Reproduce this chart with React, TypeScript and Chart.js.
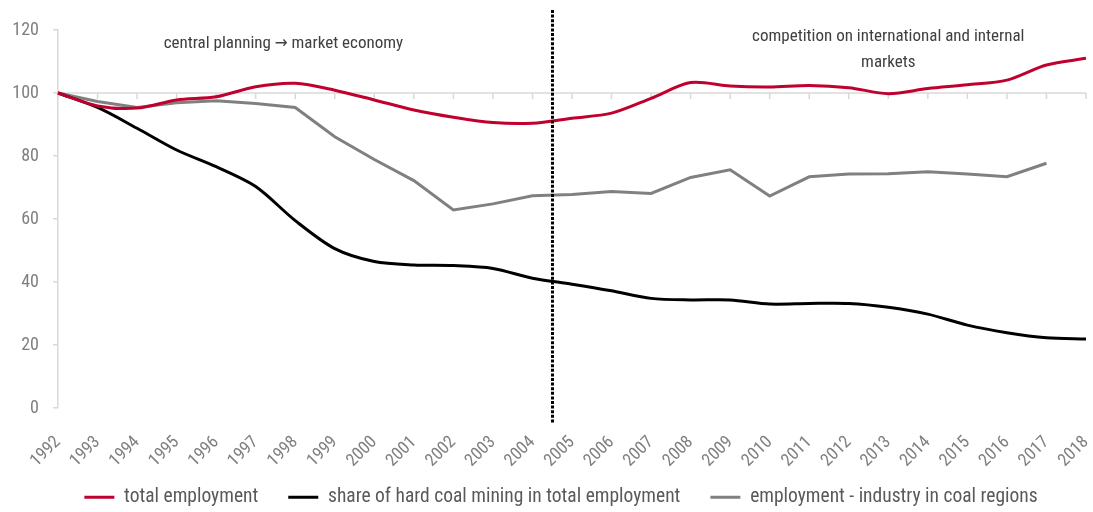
import React, { useEffect, useRef } from "react";
import { Chart, registerables } from "chart.js";

Chart.register(...registerables);

const years = [
  "1992", "1993", "1994", "1995", "1996", "1997", "1998", "1999", "2000",
  "2001", "2002", "2003", "2004", "2005", "2006", "2007", "2008", "2009",
  "2010", "2011", "2012", "2013", "2014", "2015", "2016", "2017", "2018",
];

const totalEmployment = [
  100, 95.9, 95.2, 97.8, 98.8, 102.0, 103.1, 100.9, 97.8, 94.6, 92.3, 90.6,
  90.4, 92.0, 93.6, 98.3, 103.3, 102.2, 101.9, 102.4, 101.7, 99.8, 101.4,
  102.6, 104.1, 108.9, 111.0,
];

const hardCoalShare = [
  100, 95.4, 88.8, 81.9, 76.6, 70.3, 59.5, 50.6, 46.5, 45.4, 45.2, 44.3,
  41.2, 39.3, 37.2, 34.8, 34.3, 34.3, 33.0, 33.2, 33.2, 32.0, 29.8, 26.3,
  23.9, 22.3, 21.9,
];

const industryCoalRegions: (number | null)[] = [
  100, 97.3, 95.4, 96.9, 97.5, 96.7, 95.4, 86.1, 78.9, 72.2, 62.9, 64.8,
  67.4, 67.8, 68.7, 68.1, 73.2, 75.6, 67.3, 73.4, 74.3, 74.4, 75.0, 74.3,
  73.4, 77.7, null,
];

const seriesNames = [
  "total employment",
  "share of hard coal mining in total employment",
  "employment - industry in coal regions",
];

const yMin = 0;
const yMax = 120;
const yStep = 20;
const axisCrossValue = 100;
const dividerIndex = 12.5; // between 2004 and 2005

const annotations = [
  { text: "central planning \u2192 market economy", index: 5.7, value: 115.7 },
  { text: "competition on international and internal", index: 21.0, value: 117.8 },
  { text: "markets", index: 21.0, value: 109.6 },
];

const FONT =
  "'Roboto Condensed', 'DejaVu Sans Condensed', 'Liberation Sans Narrow', Roboto, sans-serif";

const decorPlugin = {
  id: "decor",
  afterLayout(chart: any) {
    // let tick labels overflow their axis boxes (as in the original)
    if (chart.scales.x) chart.scales.x._computeLabelArea = () => undefined;
    if (chart.scales.y) chart.scales.y._computeLabelArea = () => undefined;
  },
  beforeDatasetsDraw(chart: any) {
    const { ctx, chartArea, scales } = chart;
    const x = scales.x;
    const y = scales.y;
    const yc = y.getPixelForValue(axisCrossValue);
    ctx.save();
    ctx.strokeStyle = "#d9d9d9";
    ctx.lineWidth = 1.5;
    ctx.beginPath();
    ctx.moveTo(chartArea.left, yc);
    ctx.lineTo(chartArea.right, yc);
    for (let i = 0; i < years.length; i++) {
      const px = x.getPixelForValue(i);
      ctx.moveTo(px, yc);
      ctx.lineTo(px, yc + 6);
    }
    ctx.stroke();
    ctx.restore();
  },
  afterDatasetsDraw(chart: any) {
    const { ctx, chartArea, scales } = chart;
    const x = scales.x;
    const y = scales.y;
    ctx.save();
    const px = Math.round(x.getPixelForValue(dividerIndex)) + 0.5;
    ctx.strokeStyle = "#000000";
    ctx.lineWidth = 3;
    ctx.setLineDash([3, 1.6]);
    ctx.beginPath();
    ctx.moveTo(px, chartArea.top - 20);
    ctx.lineTo(px, chartArea.bottom + 15);
    ctx.stroke();
    ctx.setLineDash([]);
    ctx.fillStyle = "#404040";
    ctx.font = `17px ${FONT}`;
    ctx.textAlign = "center";
    ctx.textBaseline = "middle";
    for (const a of annotations) {
      ctx.fillText(a.text, x.getPixelForValue(a.index), y.getPixelForValue(a.value));
    }
    ctx.restore();
  },
};

export default function App() {
  const canvasRef = useRef<HTMLCanvasElement | null>(null);

  useEffect(() => {
    if (!canvasRef.current) return;
    Chart.defaults.font.family = FONT;
    const chart = new Chart(canvasRef.current, {
      type: "line",
      data: {
        labels: years,
        datasets: [
          {
            label: seriesNames[0],
            data: totalEmployment,
            borderColor: "#c0002f",
            backgroundColor: "#c0002f",
            borderWidth: 3,
            pointRadius: 0,
            tension: 0.3,
          },
          {
            label: seriesNames[1],
            data: hardCoalShare,
            borderColor: "#000000",
            backgroundColor: "#000000",
            borderWidth: 3,
            pointRadius: 0,
            tension: 0.3,
          },
          {
            label: seriesNames[2],
            data: industryCoalRegions,
            borderColor: "#808080",
            backgroundColor: "#808080",
            borderWidth: 3,
            pointRadius: 0,
            tension: 0,
          },
        ],
      },
      options: {
        animation: false,
        responsive: true,
        maintainAspectRatio: false,
        layout: { padding: { top: 30, right: 7, left: 36, bottom: 0 } },
        plugins: {
          tooltip: { enabled: false },
          legend: {
            position: "bottom",
            labels: {
              usePointStyle: true,
              pointStyle: "line",
              pointStyleWidth: 30,
              padding: 30,
              color: "#595959",
              font: { size: 19.5, family: FONT },
            },
          },
        },
        scales: {
          x: {
            grid: { display: false, drawTicks: false },
            border: { display: false },
            ticks: {
              color: "#7f7f7f",
              font: { size: 17.5, family: FONT },
              minRotation: 45,
              maxRotation: 45,
              padding: 24,
              autoSkip: false,
            },
            afterFit: (s: any) => {
              s.height = 49.5;
              s.paddingLeft = 0;
              s.paddingRight = 0;
            },
          },
          y: {
            min: yMin,
            max: yMax,
            grid: {
              drawOnChartArea: false,
              tickLength: 5,
              color: "#d9d9d9",
              lineWidth: 1.5,
            },
            border: { color: "#d9d9d9", width: 1.5 },
            ticks: {
              stepSize: yStep,
              color: "#7f7f7f",
              font: { size: 18, family: FONT },
              padding: 14,
            },
            afterFit: (s: any) => {
              s.width = 22;
              s.paddingTop = 0;
              s.paddingBottom = 0;
            },
          },
        },
      },
      plugins: [decorPlugin],
    });
    return () => chart.destroy();
  }, []);

  return (
    <div style={{ position: "fixed", left: 0, top: 0, width: 1093, height: 517 }}>
      <canvas ref={canvasRef} />
    </div>
  );
}
